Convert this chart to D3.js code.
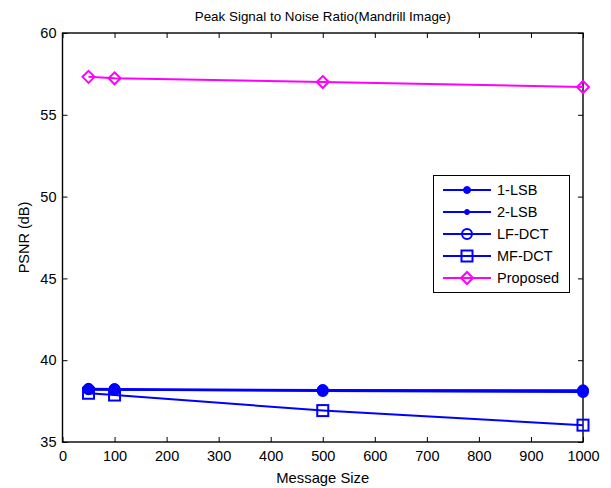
<!DOCTYPE html>
<html>
<head>
<meta charset="utf-8">
<script src="https://cdn.jsdelivr.net/npm/d3@7"></script>
<style>
  body { margin: 0; background: #fff; }
  svg { display: block; }
</style>
</head>
<body>
<div id="chart"></div>
<script>
const messageSizes = [50, 100, 500, 1000];
const seriesNames = ["1-LSB", "2-LSB", "LF-DCT", "MF-DCT", "Proposed"];
const lsb1 = [38.25, 38.24, 38.18, 38.16];
const lsb2 = [38.2, 38.2, 38.15, 38.12];
const lfDct = [38.22, 38.2, 38.12, 38.06];
const mfDct = [37.98, 37.87, 36.92, 36.03];
const proposed = [57.32, 57.23, 57.0, 56.7];
const xTicks = [0, 100, 200, 300, 400, 500, 600, 700, 800, 900, 1000];
const yTicks = [35, 40, 45, 50, 55, 60];

const width = 611;
const height = 488;
const blue = "#0000ff";
const magenta = "#ff00ff";
const font = "Arial, 'Liberation Sans', Helvetica, sans-serif";

const plotL = 62.5, plotR = 583, plotT = 33, plotB = 442;

const svg = d3.select("#chart").append("svg")
  .attr("width", width)
  .attr("height", height)
  .style("font-family", font);

const x = d3.scaleLinear().domain([0, 1000]).range([plotL, plotR]);
const y = d3.scaleLinear().domain([35, 60]).range([plotB, plotT]);

// ticks on all four sides, pointing inward
const tickLen = 5;
svg.append("g")
  .attr("transform", `translate(0,${plotB})`)
  .call(d3.axisBottom(x).tickValues(xTicks).tickSize(-tickLen).tickPadding(9).tickFormat(d3.format("d")))
  .call(g => g.select(".domain").remove());
svg.append("g")
  .attr("transform", `translate(0,${plotT})`)
  .call(d3.axisTop(x).tickValues(xTicks).tickSize(-tickLen).tickFormat(""))
  .call(g => g.select(".domain").remove());
svg.append("g")
  .attr("transform", `translate(${plotL},0)`)
  .call(d3.axisLeft(y).tickValues(yTicks).tickSize(-tickLen).tickPadding(6))
  .call(g => g.select(".domain").remove());
svg.append("g")
  .attr("transform", `translate(${plotR},0)`)
  .call(d3.axisRight(y).tickValues(yTicks).tickSize(-tickLen).tickFormat(""))
  .call(g => g.select(".domain").remove());

svg.selectAll(".tick line").attr("stroke", "#000").attr("stroke-width", 1);
svg.selectAll(".tick text")
  .attr("font-size", "14.5px")
  .attr("font-family", font)
  .attr("fill", "#000");

svg.append("rect")
  .attr("x", plotL).attr("y", plotT)
  .attr("width", plotR - plotL).attr("height", plotB - plotT)
  .attr("fill", "none")
  .attr("stroke", "#000")
  .attr("stroke-width", 1.4);

// titles
svg.append("text")
  .attr("x", (plotL + plotR) / 2).attr("y", 21)
  .attr("text-anchor", "middle")
  .attr("font-size", "13.4px")
  .text("Peak Signal to Noise Ratio(Mandrill Image)");

svg.append("text")
  .attr("x", (plotL + plotR) / 2).attr("y", 483)
  .attr("text-anchor", "middle")
  .attr("font-size", "14.8px")
  .text("Message Size");

svg.append("text")
  .attr("transform", `translate(29,${(plotT + plotB) / 2}) rotate(-90)`)
  .attr("text-anchor", "middle")
  .attr("font-size", "14.5px")
  .text("PSNR (dB)");

// markers
function drawMarker(g, kind, cx, cy, color, s) {
  if (kind === "dot") {
    g.append("circle").attr("cx", cx).attr("cy", cy).attr("r", s)
      .attr("fill", color).attr("stroke", color).attr("stroke-width", 1);
  } else if (kind === "star") {
    const p = [];
    for (let a = 0; a < 4; a++) {
      const ang = a * Math.PI / 4;
      p.push(`M${cx - s * Math.cos(ang)},${cy - s * Math.sin(ang)}L${cx + s * Math.cos(ang)},${cy + s * Math.sin(ang)}`);
    }
    g.append("path").attr("d", p.join("")).attr("stroke", color)
      .attr("stroke-width", 1.8).attr("fill", "none");
  } else if (kind === "circle") {
    g.append("circle").attr("cx", cx).attr("cy", cy).attr("r", s)
      .attr("fill", "none").attr("stroke", color).attr("stroke-width", 2);
  } else if (kind === "square") {
    g.append("rect").attr("x", cx - s).attr("y", cy - s)
      .attr("width", 2 * s).attr("height", 2 * s)
      .attr("fill", "none").attr("stroke", color).attr("stroke-width", 2);
  } else if (kind === "diamond") {
    g.append("path")
      .attr("d", `M${cx},${cy - s}L${cx + s},${cy}L${cx},${cy + s}L${cx - s},${cy}Z`)
      .attr("fill", "none").attr("stroke", color).attr("stroke-width", 2);
  }
}

const series = [
  { name: seriesNames[0], values: lsb1, color: blue, marker: "dot", size: 5.5, legendSize: 3.5 },
  { name: seriesNames[1], values: lsb2, color: blue, marker: "star", size: 3.5, legendSize: 3 },
  { name: seriesNames[2], values: lfDct, color: blue, marker: "circle", size: 5, legendSize: 5 },
  { name: seriesNames[3], values: mfDct, color: blue, marker: "square", size: 5.5, legendSize: 5.5 },
  { name: seriesNames[4], values: proposed, color: magenta, marker: "diamond", size: 6, legendSize: 6 },
];

const line = d3.line().x(d => x(d[0])).y(d => y(d[1]));
const plot = svg.append("g");

series.forEach(s => {
  const pts = messageSizes.map((m, i) => [m, s.values[i]]);
  plot.append("path")
    .datum(pts)
    .attr("d", line)
    .attr("fill", "none")
    .attr("stroke", s.color)
    .attr("stroke-width", 2);
  pts.forEach(p => drawMarker(plot, s.marker, x(p[0]), y(p[1]), s.color, s.size));
});

// legend
const lg = svg.append("g");
lg.append("rect")
  .attr("x", 433.5).attr("y", 175.5)
  .attr("width", 136).attr("height", 117)
  .attr("fill", "#fff").attr("stroke", "#000").attr("stroke-width", 1);

series.forEach((s, i) => {
  const ly = 190 + i * 22;
  lg.append("line")
    .attr("x1", 443).attr("x2", 491)
    .attr("y1", ly).attr("y2", ly)
    .attr("stroke", s.color).attr("stroke-width", 2);
  drawMarker(lg, s.marker, 467, ly, s.color, s.legendSize);
  lg.append("text")
    .attr("x", 497).attr("y", ly)
    .attr("dy", "0.36em")
    .attr("font-size", "14.5px")
    .text(s.name);
});
</script>
</body>
</html>
